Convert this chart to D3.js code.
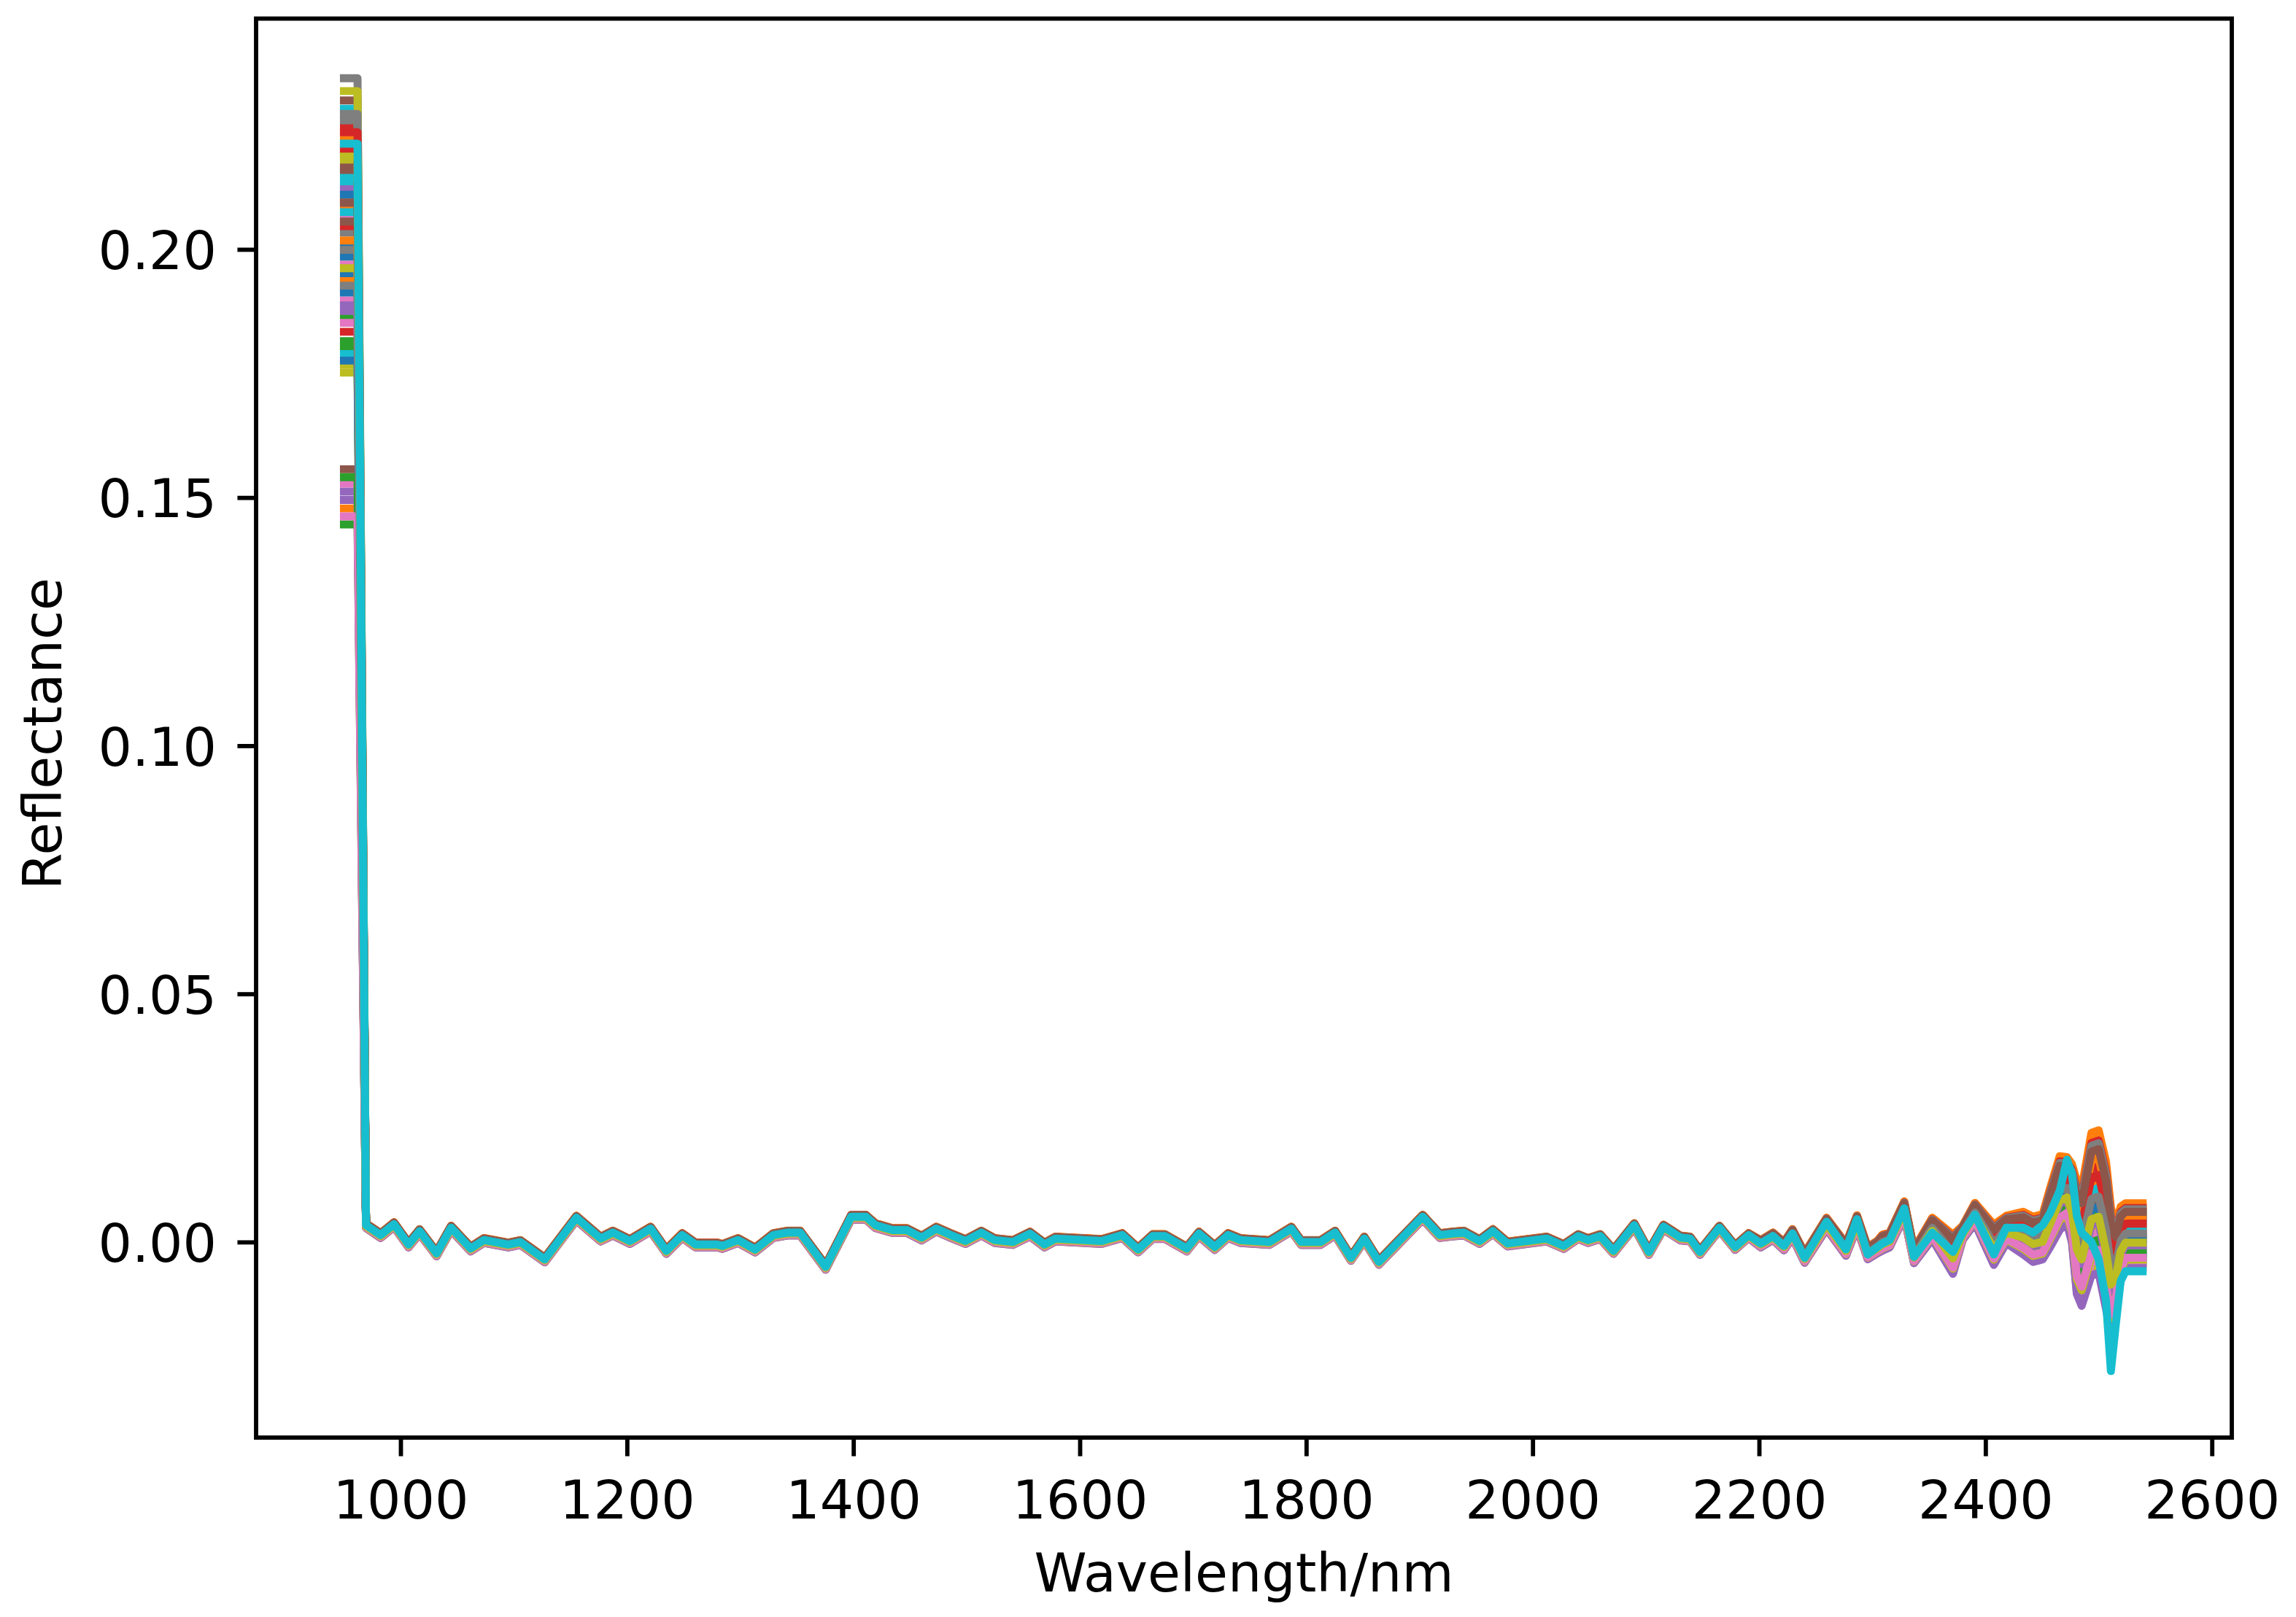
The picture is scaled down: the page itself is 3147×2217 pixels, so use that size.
<!DOCTYPE html>
<html><head><meta charset="utf-8">
<script src="https://cdn.jsdelivr.net/npm/d3@7"></script>
<style>html,body{margin:0;padding:0;background:#fff;} svg{display:block;}</style>
</head><body>
<svg id="chart" width="3147" height="2217"></svg>
<script>
// ---------- data ----------
// wavelengths (nm) of the first two samples, where every spectrum still sits high
const startWavelengths = [950, 962];
// level of the first two samples, one per spectrum (last one is the cyan spectrum drawn on top)
const startLevels = [
  0.1985, 0.2102, 0.1862, 0.2247, 0.1921, 0.2300, 0.2063, 0.2345, 0.2178, 0.2130,
  0.1948, 0.2089, 0.1803, 0.2211, 0.1512, 0.2156, 0.1897, 0.2034, 0.1768, 0.2283,
  0.2005, 0.1478, 0.2192, 0.1834, 0.2121, 0.1557, 0.1969, 0.2260, 0.1752, 0.2075,
  0.1913, 0.2228, 0.1446, 0.2047, 0.1876, 0.2165, 0.1528, 0.1999, 0.2319, 0.1789,
  0.2110, 0.1936, 0.1815, 0.2201, 0.1495, 0.2056, 0.1852, 0.2273, 0.1962, 0.2144,
  0.1776, 0.2018, 0.1541, 0.2236, 0.1887, 0.2094, 0.1462, 0.1927, 0.2187, 0.2213
];
// body of the spectra (cyan spectrum values)
const bodyWavelengths = [
  969.5, 982.4, 994.2, 1007.1, 1016.8, 1031.8, 1044.7, 1061.9, 1073.7, 1095.2,
  1105.9, 1127.4, 1155.3, 1176.8, 1187.5, 1202.6, 1220.9, 1234.8, 1248.8, 1260.6,
  1279.9, 1284.2, 1298.2, 1313.2, 1329.3, 1342.2, 1353.0, 1375.5, 1398.1, 1411.0,
  1419.5, 1434.6, 1447.4, 1460.3, 1473.2, 1486.1, 1499.0, 1513.0, 1524.8, 1540.9,
  1556.0, 1568.9, 1578.5, 1619.3, 1637.5, 1651.5, 1664.4, 1675.2, 1694.5, 1705.3,
  1719.2, 1731.0, 1741.8, 1767.5, 1786.9, 1795.5, 1812.7, 1825.5, 1839.5, 1851.3,
  1864.2, 1902.9, 1917.9, 1928.7, 1939.4, 1953.1, 1964.9, 1977.8, 2012.4, 2027.4,
  2040.3, 2048.9, 2059.7, 2071.5, 2089.8, 2102.7, 2115.6, 2130.6, 2139.2, 2147.8,
  2165.0, 2178.9, 2190.8
];
const bodyValues = [
  0.0034, 0.0014, 0.0036, -0.0005, 0.0022, -0.0023, 0.0029, -0.0013, 0.0004, -0.0005,
  0.0000, -0.0035, 0.0049, 0.0007, 0.0019, 0.0002, 0.0027, -0.0018, 0.0014, -0.0005,
  -0.0005, -0.0008, 0.0004, -0.0015, 0.0014, 0.0019, 0.0019, -0.0050, 0.0051, 0.0051,
  0.0034, 0.0024, 0.0024, 0.0009, 0.0027, 0.0014, 0.0002, 0.0019, 0.0004, 0.0000,
  0.0017, -0.0005, 0.0007, 0.0002, 0.0014, -0.0015, 0.0012, 0.0012, -0.0013, 0.0017,
  -0.0010, 0.0014, 0.0004, 0.0000, 0.0027, 0.0000, 0.0000, 0.0019, -0.0032, 0.0007,
  -0.0040, 0.0051, 0.0014, 0.0017, 0.0019, 0.0002, 0.0022, -0.0003, 0.0007, -0.0008,
  0.0012, 0.0004, 0.0012, -0.0018, 0.0034, -0.0020, 0.0031, 0.0009, 0.0007, -0.0020,
  0.0029, -0.0010, 0.0014
];
// spread of the other spectra around the cyan one in the body [lower, upper]
const bodyFringe = [-0.0006, 0.0004];
// noisy tail of the spectra (cyan spectrum values)
const tailWavelengths = [
  2201.5, 2212.3, 2222.0, 2229.5, 2240.3, 2259.6, 2276.8, 2286.5, 2296.0, 2304.6,
  2308.9, 2315.4, 2328.3, 2336.9, 2353.0, 2371.3, 2379.9, 2390.7, 2407.4, 2418.4,
  2433.4, 2442.0, 2450.6, 2457.0, 2465.6, 2472.0, 2476.4, 2480.7, 2485.0, 2493.6,
  2500.0, 2506.5, 2510.8, 2515.1, 2519.4, 2523.7, 2538.8
];
const tailValues = [
  -0.0003, 0.0012, -0.0008, 0.0017, -0.0032, 0.0041, -0.0015, 0.0046, -0.0025, -0.0010,
  -0.0003, 0.0004, 0.0068, -0.0030, 0.0019, -0.0020, 0.0019, 0.0055, -0.0025, 0.0029,
  0.0029, 0.0019, 0.0034, 0.0058, 0.0103, 0.0166, 0.0137, 0.0053, 0.0019, 0.0000,
  -0.0035, -0.0118, -0.0260, -0.0167, -0.0079, -0.0059, -0.0059
];
// upper / lower edge of the band of the other spectra, relative to the cyan one
const tailUpper = [
  0.0007, 0.0007, 0.0008, 0.0009, 0.0010, 0.0008, 0.0012, 0.0008, 0.0015, 0.0013,
  0.0018, 0.0015, 0.0014, 0.0016, 0.0030, 0.0035, 0.0014, 0.0024, 0.0060, 0.0024,
  0.0032, 0.0032, 0.0022, 0.0050, 0.0070, 0.0005, 0.0020, 0.0070, 0.0090, 0.0220,
  0.0260, 0.0280, 0.0330, 0.0200, 0.0150, 0.0137, 0.0137
];
const tailLower = [
  -0.0008, -0.0008, -0.0009, -0.0009, -0.0010, -0.0015, -0.0013, -0.0018, -0.0010, -0.0013,
  -0.0015, -0.0015, -0.0018, -0.0013, -0.0014, -0.0045, -0.0015, -0.0018, -0.0022, -0.0032,
  -0.0055, -0.0060, -0.0070, -0.0070, -0.0080, -0.0130, -0.0140, -0.0160, -0.0150, -0.0070,
  -0.0030, -0.0020, 0.0070, 0.0025, 0.0000, 0.0005, 0.0005
];
// position of each (non-top) spectrum inside that band, 0 = lower edge, 1 = upper edge
const bandPosition = [
  0.55, 1.00, 0.08, 0.72, 0.35, 0.90, 0.18, 0.64, 0.44, 0.82,
  0.27, 0.96, 0.12, 0.58, 0.39, 0.77, 0.03, 0.68, 0.49, 0.86,
  0.22, 0.97, 0.31, 0.93, 0.15, 0.53, 0.41, 0.79, 0.06, 0.70,
  0.46, 0.88, 0.25, 0.66, 0.37, 0.84, 0.10, 0.57, 0.33, 0.85,
  0.20, 0.62, 0.43, 0.75, 0.01, 0.51, 0.29, 0.91, 0.14, 0.60,
  0.47, 0.81, 0.24, 0.69, 0.36, 0.87, 0.17, 0.54, 0.40
];
const xTicks = [1000, 1200, 1400, 1600, 1800, 2000, 2200, 2400, 2600];
const yTicks = [0.00, 0.05, 0.10, 0.15, 0.20];
const palette = ['#1f77b4','#ff7f0e','#2ca02c','#d62728','#9467bd','#8c564b','#e377c2','#7f7f7f','#bcbd22','#17becf'];
const xLabel = 'Wavelength/nm';
const yLabel = 'Reflectance';

// ---------- build spectra ----------
const nSeries = startLevels.length;
const series = [];
for (let i = 0; i < nSeries; i++) {
  const isTop = (i === nSeries - 1);
  const t = isTop ? null : bandPosition[i];
  const pts = [];
  startWavelengths.forEach(w => pts.push([w, startLevels[i]]));
  bodyWavelengths.forEach((w, k) => {
    const off = isTop ? 0 : bodyFringe[0] + t * (bodyFringe[1] - bodyFringe[0]);
    pts.push([w, bodyValues[k] + off]);
  });
  tailWavelengths.forEach((w, k) => {
    const off = isTop ? 0 : tailLower[k] + t * (tailUpper[k] - tailLower[k]);
    pts.push([w, tailValues[k] + off]);
  });
  series.push(pts);
}

// ---------- layout ----------
const svg = d3.select('#chart');
const L = 351, R = 3059, T = 25.5, B = 1971;
const PT = 7.3; // px per point
const x = d3.scaleLinear().domain([872.4, 2617.6]).range([L, R]);
const y = d3.scaleLinear().domain([-0.0394, 0.2465]).range([B, T]);
const font = "'DejaVu Sans', sans-serif";
const fs = 73;

svg.append('rect').attr('width', 3147).attr('height', 2217).attr('fill', '#fff');
svg.append('defs').append('clipPath').attr('id', 'clip')
  .append('rect').attr('x', L).attr('y', T).attr('width', R - L).attr('height', B - T);

const line = d3.line().x(d => x(d[0])).y(d => y(d[1]));
svg.append('g').attr('clip-path', 'url(#clip)')
  .selectAll('path').data(series).join('path')
  .attr('d', line)
  .attr('fill', 'none')
  .attr('stroke', (d, i) => palette[i % 10])
  .attr('stroke-width', 1.5 * PT)
  .attr('stroke-linejoin', 'round')
  .attr('stroke-linecap', 'square');

// axes
const xAxis = d3.axisBottom(x).tickValues(xTicks).tickFormat(d3.format('d'))
  .tickSize(3.5 * PT).tickPadding(3.5 * PT);
const yAxis = d3.axisLeft(y).tickValues(yTicks).tickFormat(d3.format('.2f'))
  .tickSize(3.5 * PT).tickPadding(3.5 * PT);

const gx = svg.append('g').attr('transform', `translate(0,${B})`).call(xAxis);
const gy = svg.append('g').attr('transform', `translate(${L},0)`).call(yAxis);
[gx, gy].forEach(g => {
  g.select('.domain').remove();
  g.selectAll('.tick line').attr('stroke', '#000').attr('stroke-width', 0.8 * PT);
  g.selectAll('.tick text').attr('fill', '#000').attr('font-family', font).attr('font-size', fs);
});
gx.selectAll('.tick text').attr('dy', null).attr('y', 2082 - B).attr('dominant-baseline', 'alphabetic');
gy.selectAll('.tick text').attr('dy', null).attr('x', 297 - L).attr('y', 26.6).attr('dominant-baseline', 'alphabetic');

// frame
svg.append('rect').attr('x', L).attr('y', T).attr('width', R - L).attr('height', B - T)
  .attr('fill', 'none').attr('stroke', '#000').attr('stroke-width', 0.8 * PT)
  .attr('stroke-linejoin', 'miter');

// labels
svg.append('text').attr('x', (L + R) / 2).attr('y', 2182)
  .attr('text-anchor', 'middle').attr('font-family', font).attr('font-size', fs)
  .attr('fill', '#000').text(xLabel);
svg.append('text').attr('transform', `translate(84,1006) rotate(-90)`)
  .attr('text-anchor', 'middle').attr('font-family', font).attr('font-size', fs)
  .attr('fill', '#000').text(yLabel);
</script>
</body></html>
